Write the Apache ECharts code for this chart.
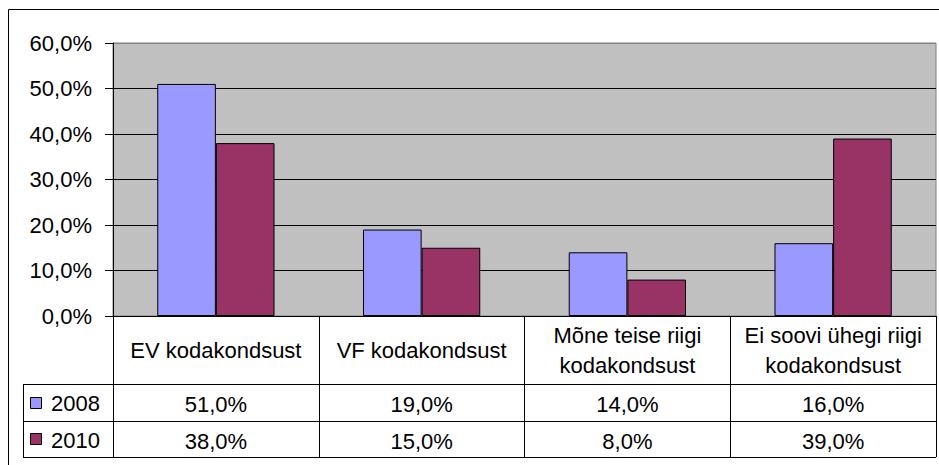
<!DOCTYPE html>
<html lang="et">
<head>
    <meta charset="UTF-8">
    <title>Kodakondsus</title>
    <style>
        html, body { margin: 0; padding: 0; background: #fff; }
        #box { width: 939px; height: 465px; }
    </style>
</head>
<body>
<div id="box"></div>
<script src="https://cdn.jsdelivr.net/npm/echarts@6/dist/echarts.min.js"></script>
<script>
    // data
    var categories = ['EV kodakondsust', 'VF kodakondsust', 'Mõne teise riigi\nkodakondsust', 'Ei soovi ühegi riigi\nkodakondsust'];
    var years = ['2008', '2010'];
    var values2008 = [51, 19, 14, 16];
    var values2010 = [38, 15, 8, 39];
    var yTicks = [0, 10, 20, 30, 40, 50, 60];

    var colors = ['#9999FF', '#993366'];
    var font = 'Liberation Sans, Arial, sans-serif';
    var fs = 22;

    // layout of plot + data table
    var plotLeft = 113, plotRight = 936, plotTop = 43, plotBottom = 316;
    var rowLines = [384, 421, 457];
    var legendLeft = 23;

    function pct(v) {
        return v.toFixed(1).replace('.', ',') + '%';
    }

    var mychart = echarts.init(document.getElementById('box'), null, {renderer: 'svg'});

    var rows = [values2008, values2010];
    var rowMargins = [88, 125];

    var xAxes = [{
        type: 'category',
        data: categories,
        axisLine: {lineStyle: {color: '#000', width: 1}},
        axisTick: {show: true, interval: 0, length: rowLines[2] - plotBottom, lineStyle: {color: '#000'}},
        axisLabel: {
            interval: 0, color: '#000', fontFamily: font, fontSize: fs,
            lineHeight: 30, margin: 34, verticalAlign: 'middle', align: 'center'
        }
    }];
    rows.forEach(function (row, r) {
        xAxes.push({
            type: 'category',
            data: categories,
            position: 'bottom',
            axisLine: {show: false},
            axisTick: {show: false},
            axisLabel: {
                interval: 0, color: '#000', fontFamily: font, fontSize: fs,
                margin: rowMargins[r], verticalAlign: 'middle',
                formatter: function (v, i) { return pct(row[i]); }
            }
        });
    });

    var splitColors = yTicks.map(function (t, i) { return i === yTicks.length - 1 ? '#808080' : '#000'; });

    var graphics = [
        {type: 'rect', shape: {x: 8.5, y: 9.5, width: 1000, height: 1000},
            style: {fill: 'none', stroke: '#000', lineWidth: 1}, silent: true}
    ];
    rowLines.forEach(function (y) {
        graphics.push({type: 'line', shape: {x1: legendLeft, y1: y + 0.5, x2: plotRight, y2: y + 0.5},
            style: {stroke: '#000', lineWidth: 1}, silent: true});
    });
    graphics.push({type: 'line', shape: {x1: legendLeft + 0.5, y1: rowLines[0], x2: legendLeft + 0.5, y2: rowLines[2]},
        style: {stroke: '#000', lineWidth: 1}, silent: true});
    years.forEach(function (y, i) {
        var top = rowLines[i], bot = rowLines[i + 1];
        var cy = (top + bot) / 2;
        graphics.push({type: 'rect', shape: {x: 30.5, y: Math.round(cy - 5) - 0.5, width: 11, height: 11},
            style: {fill: colors[i], stroke: '#000', lineWidth: 1}, silent: true});
        graphics.push({type: 'text', x: 51, y: cy + 1,
            style: {text: y, fill: '#000', font: fs + 'px ' + font, verticalAlign: 'middle'}, silent: true});
    });

    var option = {
        animation: false,
        backgroundColor: '#fff',
        grid: {
            left: plotLeft, right: 939 - plotRight, top: plotTop, bottom: 465 - plotBottom,
            show: true, backgroundColor: '#C0C0C0', borderColor: '#808080', borderWidth: 1,
            containLabel: false
        },
        xAxis: xAxes,
        yAxis: {
            type: 'value',
            min: yTicks[0], max: yTicks[yTicks.length - 1], interval: 10,
            axisLine: {show: true, lineStyle: {color: '#000'}},
            axisTick: {show: true, length: 8, lineStyle: {color: '#000'}},
            axisLabel: {color: '#000', fontFamily: font, fontSize: fs, margin: 21, formatter: pct},
            splitLine: {show: true, lineStyle: {color: splitColors, width: 1}}
        },
        series: [
            {name: years[0], type: 'bar', data: values2008, barGap: '0%', barCategoryGap: '43%',
                itemStyle: {color: colors[0], borderColor: '#000', borderWidth: 1}},
            {name: years[1], type: 'bar', data: values2010, barGap: '0%', barCategoryGap: '43%',
                itemStyle: {color: colors[1], borderColor: '#000', borderWidth: 1}}
        ],
        graphic: graphics
    };
    mychart.setOption(option);
</script>
</body>
</html>
